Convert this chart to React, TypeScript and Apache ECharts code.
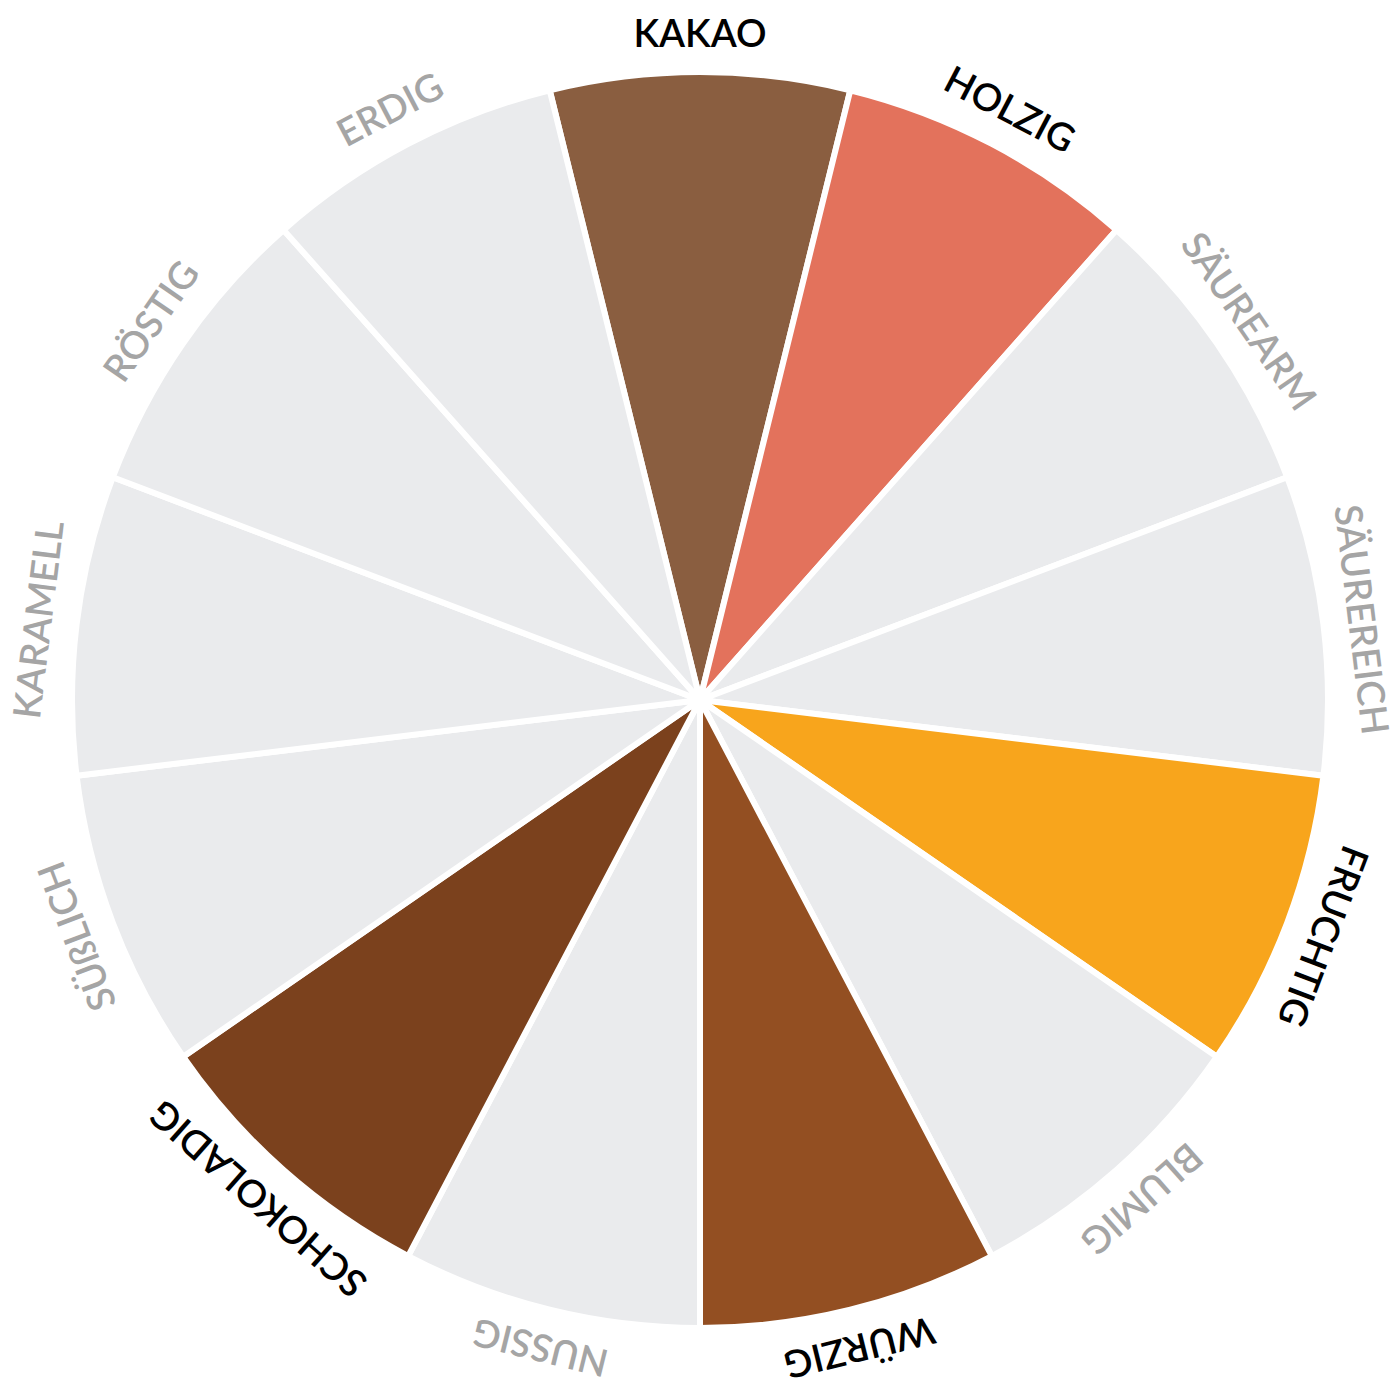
import React, { useEffect, useRef } from "react";
import * as echarts from "echarts";

const categories = [
  "KAKAO", "HOLZIG", "SÄUREARM", "SÄUREREICH", "FRUCHTIG", "BLUMIG", "WÜRZIG",
  "NUSSIG", "SCHOKOLADIG", "SÜßLICH", "KARAMELL", "RÖSTIG", "ERDIG",
];
const values = [1, 1, 1, 1, 1, 1, 1, 1, 1, 1, 1, 1, 1];
const active = [true, true, false, false, true, false, true, false, true, false, false, false, false];
const activeColors: Record<string, string> = {
  KAKAO: "#8A5E40",
  HOLZIG: "#E3725C",
  FRUCHTIG: "#F8A51C",
  WÜRZIG: "#934F22",
  SCHOKOLADIG: "#7B411D",
};
const inactiveColor = "#EAEBED";
const labelActiveColor = "#000000";
const labelInactiveColor = "#A5A5A5";

export default function App() {
  const ref = useRef<HTMLDivElement>(null);
  useEffect(() => {
    if (!ref.current) return;
    const chart = echarts.init(ref.current, undefined, { renderer: "svg" });
    const n = categories.length;
    const step = 360 / n;
    const cx = 700;
    const cy = 700;
    const labelR = 668;
    chart.setOption({
      animation: false,
      series: [
        {
          type: "pie",
          center: [cx, cy],
          radius: [0, 628],
          startAngle: 90 + step / 2,
          clockwise: true,
          label: { show: false },
          labelLine: { show: false },
          emphasis: { disabled: true },
          itemStyle: { borderColor: "#ffffff", borderWidth: 6 },
          data: categories.map((c, i) => ({
            name: c,
            value: values[i],
            itemStyle: { color: active[i] ? activeColors[c] : inactiveColor },
          })),
        },
        {
          type: "custom",
          coordinateSystem: "none",
          silent: true,
          data: categories.map((c, i) => [i]),
          renderItem: (params: any, api: any) => {
            const i = api.value(0);
            const theta = (i * step * Math.PI) / 180;
            const x = cx + labelR * Math.sin(theta);
            const y = cy - labelR * Math.cos(theta);
            return {
              type: "text",
              x,
              y,
              rotation: -theta,
              style: {
                text: categories[i],
                fill: active[i] ? labelActiveColor : labelInactiveColor,
                font: '600 38px "Lato", "Noto Sans", sans-serif',
                align: "center",
                verticalAlign: "middle",
              },
            };
          },
        },
      ],
    });
    return () => chart.dispose();
  }, []);
  return (
    <div
      ref={ref}
      style={{ position: "fixed", left: 0, top: 0, width: 1400, height: 1400, background: "#fff" }}
    />
  );
}
